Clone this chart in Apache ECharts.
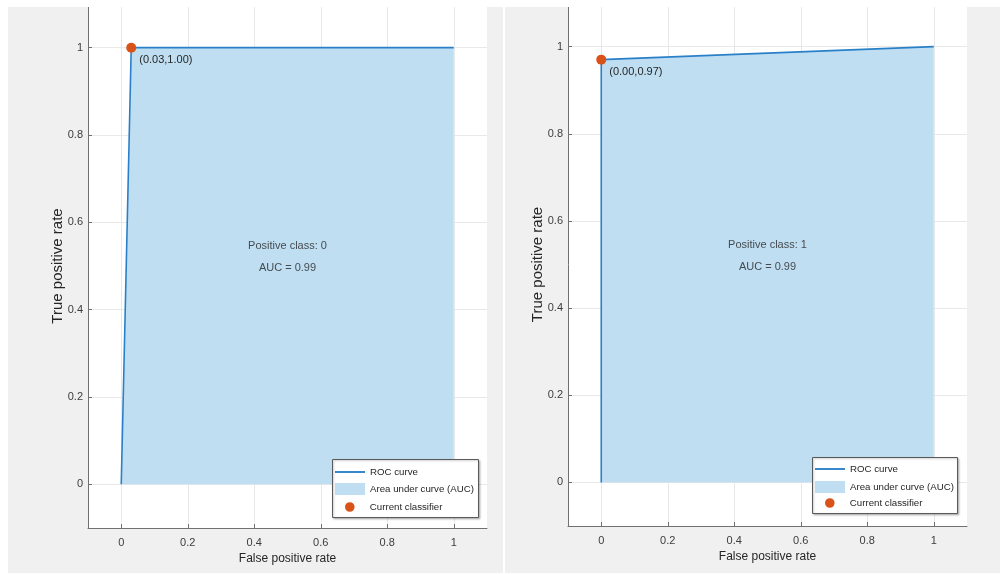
<!DOCTYPE html>
<html>
<head>
<meta charset="utf-8">
<title>ROC curves</title>
<script src="https://cdn.jsdelivr.net/npm/echarts@6/dist/echarts.min.js"></script>
<style>
  html, body { margin: 0; padding: 0; background: #ffffff; }
  #chart { width: 1000px; height: 574px; }
</style>
</head>
<body>
<div id="chart"></div>
<script>
// ROC curve points (false positive rate / true positive rate) for each positive class
const rocFprClass0 = [0, 0.03, 1];
const rocTprClass0 = [0, 1.00, 1];
const rocFprClass1 = [0, 0.00, 1];
const rocTprClass1 = [0, 0.97, 1];

// Operating point of the current classifier [fpr, tpr]
const classifierClass0 = [0.03, 1.00];
const classifierClass1 = [0.00, 0.97];

const positiveClasses = ['0', '1'];
const aucValues = [0.99, 0.99];

const FONT = "'Liberation Sans', Arial, Helvetica, sans-serif";
const LINE_COLOR = '#2a80c8';
const AREA_COLOR = '#bfdef2';
const DOT_COLOR = '#d95319';
const TEXT_COLOR = '#262626';
const AXIS_COLOR = '#707070';

const toPairs = (xs, ys) => xs.map((x, i) => [x, ys[i]]);

function xAxisFor(gridIndex) {
  return {
    type: 'value', gridIndex, min: -0.1, max: 1.1, splitNumber: 6,
    name: 'False positive rate', nameLocation: 'middle', nameGap: 24,
    nameTextStyle: { fontFamily: FONT, fontSize: 12, color: TEXT_COLOR },
    axisLine: { show: true, onZero: false, lineStyle: { color: AXIS_COLOR, width: 1 } },
    axisTick: { show: true, inside: true, length: 4, lineStyle: { color: AXIS_COLOR } },
    axisLabel: { fontFamily: FONT, fontSize: 11, color: '#3c3c3c', margin: 9,
                 showMinLabel: false, showMaxLabel: false },
    splitLine: { show: true, showMinLine: false, showMaxLine: false,
                 lineStyle: { color: '#e8e8e8', width: 1 } }
  };
}

function yAxisFor(gridIndex) {
  return {
    type: 'value', gridIndex, min: -0.1, max: 1.1, splitNumber: 6,
    name: 'True positive rate', nameLocation: 'middle', nameGap: 23, nameRotate: 90,
    nameMoveOverlap: false,
    nameTextStyle: { fontFamily: FONT, fontSize: 15, color: TEXT_COLOR },
    axisLine: { show: true, onZero: false, lineStyle: { color: AXIS_COLOR, width: 1 } },
    axisTick: { show: true, inside: true, length: 4, lineStyle: { color: AXIS_COLOR } },
    axisLabel: { fontFamily: FONT, fontSize: 11, color: '#3c3c3c', margin: 5,
                 showMinLabel: false, showMaxLabel: false },
    splitLine: { show: true, showMinLine: false, showMaxLine: false,
                 lineStyle: { color: '#e8e8e8', width: 1 } }
  };
}

function panelSeries(idx, fpr, tpr, point, cls, auc) {
  const curve = toPairs(fpr, tpr);
  return [
    {
      name: 'Area under curve (AUC)', type: 'line', xAxisIndex: idx, yAxisIndex: idx,
      data: curve, symbol: 'none', color: AREA_COLOR,
      lineStyle: { width: 0, color: AREA_COLOR },
      areaStyle: { color: AREA_COLOR, opacity: 1 }, silent: true, z: 2
    },
    {
      name: 'ROC curve', type: 'line', xAxisIndex: idx, yAxisIndex: idx,
      data: curve, symbol: 'none', color: LINE_COLOR,
      lineStyle: { width: 1.6, color: LINE_COLOR }, silent: true, z: 3
    },
    {
      name: 'Current classifier', type: 'scatter', xAxisIndex: idx, yAxisIndex: idx,
      data: [point], symbol: 'circle', symbolSize: 10, color: DOT_COLOR,
      itemStyle: { color: DOT_COLOR, opacity: 1 }, silent: true, z: 5,
      label: {
        show: true, position: 'right', distance: 3, offset: [0, 12],
        fontFamily: FONT, fontSize: 11, color: TEXT_COLOR,
        formatter: p => '(' + p.value[0].toFixed(2) + ',' + p.value[1].toFixed(2) + ')'
      }
    },
    {
      name: 'summary' + idx, type: 'scatter', xAxisIndex: idx, yAxisIndex: idx,
      data: [[0.5, 0.52]], symbolSize: 1, itemStyle: { color: 'rgba(0,0,0,0)' }, silent: true, z: 5,
      label: {
        show: true, position: 'inside', align: 'center', verticalAlign: 'middle',
        fontFamily: FONT, fontSize: 11, lineHeight: 22, color: TEXT_COLOR,
        formatter: () => 'Positive class: ' + cls + '\nAUC = ' + auc.toFixed(2)
      }
    }
  ];
}

// One legend per entry so each swatch can have its own size
function legendsFor(left, rowCenters) {
  const common = {
    orient: 'horizontal', padding: 0, selectedMode: false, itemWidth: 30,
    textStyle: { fontFamily: FONT, fontSize: 9.7, lineHeight: 12, color: TEXT_COLOR }
  };
  return [
    Object.assign({}, common, {
      left, top: rowCenters[0] - 6, itemHeight: 12,
      data: [{ name: 'ROC curve', icon: 'path://M0,0H32V2H0Z', itemStyle: { color: LINE_COLOR, borderWidth: 0 } }]
    }),
    Object.assign({}, common, {
      left, top: rowCenters[1] - 6, itemHeight: 12,
      data: [{ name: 'Area under curve (AUC)', icon: 'rect', itemStyle: { color: AREA_COLOR, borderWidth: 0 } }]
    }),
    Object.assign({}, common, {
      left: left + 2, top: rowCenters[2] - 6, itemHeight: 12,
      data: [{ name: 'Current classifier',
               icon: 'path://M0,6A6,6,0,1,1,12,6A6,6,0,1,1,0,6ZM-10,-1.5H-9.9V-1.4H-10ZM21.9,13.4H22V13.5H21.9Z',
               itemStyle: { color: DOT_COLOR, borderWidth: 0 } }]
    })
  ];
}

const chart = echarts.init(document.getElementById('chart'), null, { renderer: 'canvas' });

const option = {
  backgroundColor: '#ffffff',
  animation: false,
  textStyle: { fontFamily: FONT },
  grid: [
    { left: 88, top: 4, width: 399, height: 524, show: true, backgroundColor: '#ffffff', borderWidth: 0 },
    { left: 568, top: 3, width: 399, height: 523, show: true, backgroundColor: '#ffffff', borderWidth: 0 }
  ],
  xAxis: [xAxisFor(0), xAxisFor(1)],
  yAxis: [yAxisFor(0), yAxisFor(1)],
  legend: legendsFor(335, [472, 489, 507]).concat(legendsFor(815, [469, 487, 503])),
  graphic: [
    { type: 'rect', z: -1, silent: true, shape: { x: 8, y: 7, width: 495, height: 566 }, style: { fill: '#f0f0f0' } },
    { type: 'rect', z: -1, silent: true, shape: { x: 505, y: 7, width: 495, height: 566 }, style: { fill: '#f0f0f0' } },
    { type: 'rect', z: 10, silent: true, shape: { x: 0, y: 0, width: 1000, height: 7 }, style: { fill: '#ffffff' } },
    { type: 'rect', z: 3, silent: true, shape: { x: 332.5, y: 459.5, width: 146, height: 58 },
      style: { fill: '#ffffff', stroke: '#5a5a5a', lineWidth: 1, shadowBlur: 2, shadowOffsetX: 1, shadowOffsetY: 1, shadowColor: 'rgba(0,0,0,0.25)' } },
    { type: 'rect', z: 3, silent: true, shape: { x: 812.5, y: 457.5, width: 145, height: 56 },
      style: { fill: '#ffffff', stroke: '#5a5a5a', lineWidth: 1, shadowBlur: 2, shadowOffsetX: 1, shadowOffsetY: 1, shadowColor: 'rgba(0,0,0,0.25)' } }
  ],
  series: [].concat(
    panelSeries(0, rocFprClass0, rocTprClass0, classifierClass0, positiveClasses[0], aucValues[0]),
    panelSeries(1, rocFprClass1, rocTprClass1, classifierClass1, positiveClasses[1], aucValues[1])
  )
};

chart.setOption(option);
</script>
</body>
</html>
